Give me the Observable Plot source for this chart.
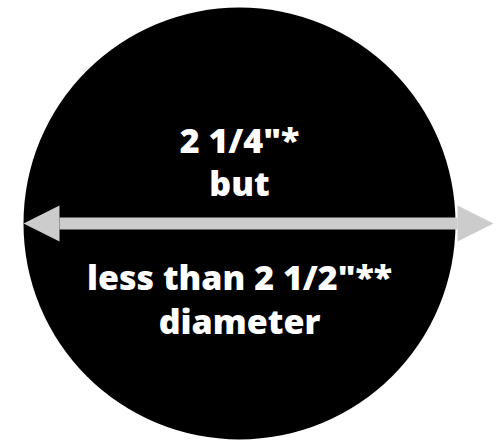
<!DOCTYPE html>
<html>
<head>
<meta charset="utf-8">
<script src="https://cdn.jsdelivr.net/npm/d3@7"></script>
<script src="https://cdn.jsdelivr.net/npm/@observablehq/plot@0.6"></script>
<style>
html,body{margin:0;padding:0;background:#fff;}
</style>
</head>
<body>
<div id="chart"></div>
<script>
// Diagram units: pixels relative to the circle centre
const circle = [{x: 0, y: 0, r: 216}];
const arrowLeftTip = -216;
const arrowRightTip = 254;
const headLength = 36;
const headHalfWidth = 18;
const shaftHalfWidth = 6;
const labels = ["2 1/4\"*", "but", "less than 2 1/2\"**", "diameter"];
const labelY = [-71, -28, 66, 110];

const shaft = [
  {x: arrowLeftTip + headLength, y: 0},
  {x: arrowRightTip - headLength, y: 0}
];
const leftHead = [
  {x: arrowLeftTip, y: 0},
  {x: arrowLeftTip + headLength, y: -headHalfWidth},
  {x: arrowLeftTip + headLength, y: headHalfWidth},
  {x: arrowLeftTip, y: 0}
];
const rightHead = [
  {x: arrowRightTip, y: 0},
  {x: arrowRightTip - headLength, y: -headHalfWidth},
  {x: arrowRightTip - headLength, y: headHalfWidth},
  {x: arrowRightTip, y: 0}
];
const textData = labels.map((t, i) => ({text: t, y: labelY[i]}));

const chart = Plot.plot({
  width: 504,
  height: 440,
  margin: 0,
  x: {domain: [-239, 265], range: [0, 504], axis: null},
  y: {domain: [-223, 217], range: [0, 440], axis: null},
  r: {type: "identity"},
  style: {background: "#ffffff"},
  marks: [
    Plot.dot(circle, {x: "x", y: "y", r: "r", fill: "#000000", stroke: "none"}),
    Plot.line(shaft, {x: "x", y: "y", stroke: "#cccccc", strokeWidth: shaftHalfWidth * 2, strokeLinecap: "butt"}),
    Plot.line(leftHead, {x: "x", y: "y", fill: "#cccccc", stroke: "none"}),
    Plot.line(rightHead, {x: "x", y: "y", fill: "#cccccc", stroke: "none"}),
    Plot.text(textData, {
      x: () => 0, y: "y", text: "text",
      fill: "#ffffff", fontSize: 34, fontWeight: 800,
      fontFamily: "'Open Sans', sans-serif",
      lineAnchor: "bottom", textAnchor: "middle"
    })
  ]
});
document.getElementById("chart").appendChild(chart);
</script>
</body>
</html>
